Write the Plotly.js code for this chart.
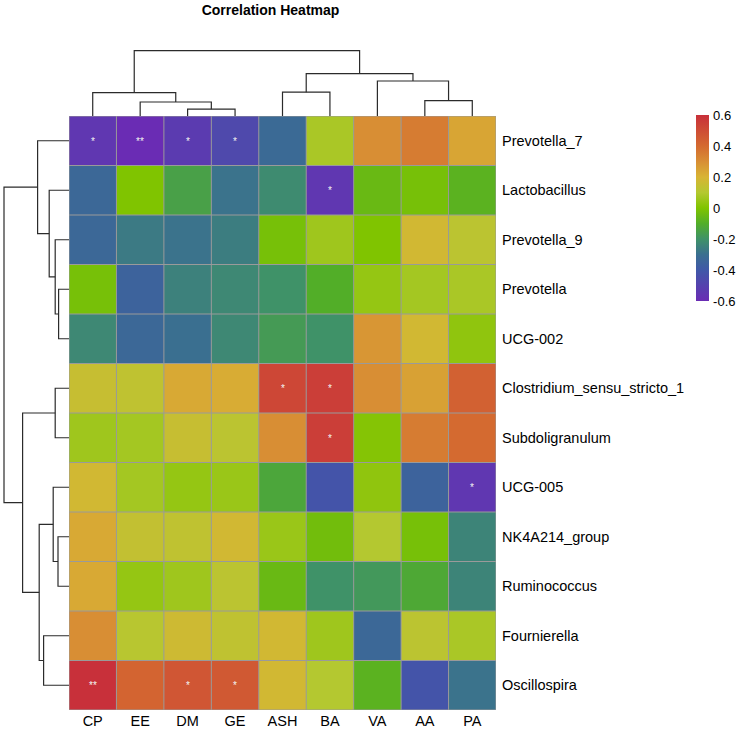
<!DOCTYPE html>
<html>
<head>
<meta charset="utf-8">
<script src="https://cdn.plot.ly/plotly-3.0.1.min.js"></script>
<style>
  html, body { margin: 0; padding: 0; background: #ffffff; }
  #chart { width: 738px; height: 729px; }
</style>
</head>
<body>
<div id="chart"></div>
<script>
// Environmental / nutrient variables (columns, in dendrogram order)
const variables = ['CP', 'EE', 'DM', 'GE', 'ASH', 'BA', 'VA', 'AA', 'PA'];

// Bacterial genera (rows, in dendrogram order)
const genera = ['Prevotella_7', 'Lactobacillus', 'Prevotella_9', 'Prevotella', 'UCG-002',
  'Clostridium_sensu_stricto_1', 'Subdoligranulum', 'UCG-005', 'NK4A214_group',
  'Ruminococcus', 'Fournierella', 'Oscillospira'];

// Correlation coefficients, one array per genus
const prevotella7   = [-0.55, -0.60, -0.53, -0.47, -0.32,  0.08,  0.30,  0.35,  0.24];
const lactobacillus = [-0.33,  0.00, -0.15, -0.29, -0.22, -0.55, -0.05, -0.02, -0.08];
const prevotella9   = [-0.33, -0.27, -0.29, -0.26, -0.02,  0.06,  0.00,  0.18,  0.12];
const prevotella    = [-0.02, -0.35, -0.25, -0.23, -0.20, -0.10,  0.04,  0.07,  0.08];
const ucg002        = [-0.23, -0.33, -0.30, -0.23, -0.17, -0.20,  0.28,  0.18,  0.03];
const clostridium   = [ 0.15,  0.13,  0.23,  0.22,  0.52,  0.55,  0.30,  0.25,  0.43];
const subdoli       = [ 0.06,  0.07,  0.15,  0.12,  0.30,  0.55,  0.01,  0.35,  0.40];
const ucg005        = [ 0.18,  0.07,  0.04,  0.05, -0.13, -0.42,  0.03, -0.35, -0.55];
const nk4a214       = [ 0.23,  0.14,  0.13,  0.18,  0.05, -0.03,  0.10, -0.02, -0.24];
const ruminococcus  = [ 0.23,  0.04,  0.06,  0.12, -0.05, -0.20, -0.18, -0.12, -0.24];
const fournierella  = [ 0.30,  0.11,  0.17,  0.13,  0.18,  0.06, -0.33,  0.12,  0.08];
const oscillospira  = [ 0.60,  0.42,  0.47,  0.46,  0.18,  0.10, -0.08, -0.42, -0.29];

const corr = [prevotella7, lactobacillus, prevotella9, prevotella, ucg002, clostridium,
  subdoli, ucg005, nk4a214, ruminococcus, fournierella, oscillospira];

// Significance marks (* p < 0.05, ** p < 0.01)
const sigMarks = [
  ['*', '**', '*', '*', '', '', '', '', ''],
  ['', '', '', '', '', '*', '', '', ''],
  ['', '', '', '', '', '', '', '', ''],
  ['', '', '', '', '', '', '', '', ''],
  ['', '', '', '', '', '', '', '', ''],
  ['', '', '', '', '*', '*', '', '', ''],
  ['', '', '', '', '', '*', '', '', ''],
  ['', '', '', '', '', '', '', '', '*'],
  ['', '', '', '', '', '', '', '', ''],
  ['', '', '', '', '', '', '', '', ''],
  ['', '', '', '', '', '', '', '', ''],
  ['**', '', '*', '*', '', '', '', '', '']
];

// Column clustering (hclust-style merge table: negative = leaf position + 1)
const colMerge   = [[-3, -4], [-2, 1], [-1, 2], [-8, -9], [-7, 4], [-5, -6], [6, 5], [3, 7]];
const colHeights = [0.34, 0.70, 1.17, 0.77, 1.75, 1.19, 2.12, 3.27];

// Row clustering
const rowMerge   = [[-4, -5], [-3, 1], [-2, 2], [-1, 3], [-6, -7], [-9, -10], [-8, 6],
  [-11, -12], [7, 8], [5, 9], [4, 10]];
const rowHeights = [0.52, 0.69, 0.99, 1.57, 0.69, 0.55, 0.79, 1.27, 1.49, 2.32, 3.25];

const colorTicks = [-0.6, -0.4, -0.2, 0, 0.2, 0.4, 0.6];

// Turn a merge table into dendrogram segments (position along leaves, height)
function dendroPaths(merge, heights) {
  const pos = [], hgt = [];
  const a = [], b = [];
  const ref = (k) => k < 0 ? [-k - 1, 0] : [pos[k - 1], hgt[k - 1]];
  merge.forEach((m, i) => {
    const [pl, hl] = ref(m[0]);
    const [pr, hr] = ref(m[1]);
    const h = heights[i];
    pos.push((pl + pr) / 2);
    hgt.push(h);
    a.push(pl, pl, pr, pr, null);
    b.push(hl, h, h, hr, null);
  });
  return { a, b };
}

const W = 738, H = 729;
const px = (v) => v / W;
const py = (v) => 1 - v / H;

const heatLeft = 69, heatRight = 496, heatTop = 116, heatBottom = 710;
const treeScale = 20; // pixels per distance unit

const colTree = dendroPaths(colMerge, colHeights);
const rowTree = dendroPaths(rowMerge, rowHeights);

const colorscale = [
  [0.0000, '#6a2cb4'],
  [0.1667, '#4058a8'],
  [0.2500, '#3a6f90'],
  [0.3333, '#3f9268'],
  [0.4167, '#52ae28'],
  [0.5000, '#80c400'],
  [0.5833, '#b4c830'],
  [0.6667, '#d8b434'],
  [0.7500, '#d88e34'],
  [0.8333, '#d46a30'],
  [1.0000, '#c8303a']
];

const font = 'Liberation Sans, Arial, Helvetica, sans-serif';

const heat = {
  type: 'heatmap',
  x: variables,
  y: genera,
  z: corr,
  text: sigMarks,
  texttemplate: '%{text}',
  textfont: { family: font, size: 10, color: '#f2f2f2' },
  zmin: -0.6, zmax: 0.6,
  colorscale: colorscale,
  xaxis: 'x', yaxis: 'y',
  hovertemplate: '%{y} / %{x}: %{z}<extra></extra>',
  colorbar: {
    x: px(696), xanchor: 'left', xpad: 0,
    y: py(208.3), yanchor: 'middle', ypad: 0,
    len: 186, lenmode: 'pixels',
    thickness: 13, thicknessmode: 'pixels',
    outlinewidth: 0,
    tickvals: colorTicks,
    ticktext: colorTicks.map(v => String(v)),
    ticks: 'outside', ticklen: 2, tickcolor: 'rgba(0,0,0,0)',
    tickfont: { family: font, size: 13, color: '#000' }
  }
};

const colDendro = {
  type: 'scatter', mode: 'lines',
  x: colTree.a, y: colTree.b,
  xaxis: 'x2', yaxis: 'y2',
  line: { color: '#2b2b2b', width: 1.2 },
  hoverinfo: 'skip', showlegend: false, connectgaps: false
};

const rowDendro = {
  type: 'scatter', mode: 'lines',
  x: rowTree.b, y: rowTree.a,
  xaxis: 'x3', yaxis: 'y3',
  line: { color: '#2b2b2b', width: 1.2 },
  hoverinfo: 'skip', showlegend: false, connectgaps: false
};

// Cell borders
const shapes = [];
for (let i = 0; i <= variables.length; i++) {
  shapes.push({ type: 'line', xref: 'x', yref: 'y', x0: i - 0.5, x1: i - 0.5,
    y0: -0.5, y1: genera.length - 0.5, line: { color: '#9a9a9a', width: 1 } });
}
for (let j = 0; j <= genera.length; j++) {
  shapes.push({ type: 'line', xref: 'x', yref: 'y', y0: j - 0.5, y1: j - 0.5,
    x0: -0.5, x1: variables.length - 0.5, line: { color: '#9a9a9a', width: 1 } });
}

const treeRange = 3.5;

const layout = {
  width: W, height: H,
  margin: { l: 0, r: 0, t: 0, b: 0 },
  paper_bgcolor: '#ffffff',
  plot_bgcolor: '#ffffff',
  showlegend: false,
  font: { family: font, color: '#000' },
  title: {
    text: '<b>Correlation Heatmap</b>',
    x: px(270.5), xanchor: 'center', xref: 'paper',
    y: py(10), yanchor: 'middle', yref: 'paper',
    font: { family: font, size: 14, color: '#000' }
  },
  xaxis: {
    domain: [px(heatLeft), px(heatRight)],
    anchor: 'y',
    type: 'category',
    range: [-0.5, variables.length - 0.5],
    showgrid: false, zeroline: false, showline: false, ticks: '',
    tickfont: { family: font, size: 14.5, color: '#000' },
    fixedrange: true
  },
  yaxis: {
    domain: [py(heatBottom), py(heatTop)],
    anchor: 'x',
    type: 'category',
    range: [genera.length - 0.5, -0.5],
    side: 'right',
    showgrid: false, zeroline: false, showline: false, ticks: '',
    ticklabelstandoff: 5,
    tickfont: { family: font, size: 14.5, color: '#000' },
    fixedrange: true
  },
  xaxis2: {
    domain: [px(heatLeft), px(heatRight)],
    anchor: 'y2',
    range: [-0.5, variables.length - 0.5],
    visible: false, fixedrange: true
  },
  yaxis2: {
    domain: [py(heatTop), py(heatTop - treeRange * treeScale)],
    anchor: 'x2',
    range: [0, treeRange],
    visible: false, fixedrange: true
  },
  xaxis3: {
    domain: [px(heatLeft - 3.4 * treeScale), px(heatLeft)],
    anchor: 'y3',
    range: [3.4, 0],
    visible: false, fixedrange: true
  },
  yaxis3: {
    domain: [py(heatBottom), py(heatTop)],
    anchor: 'x3',
    range: [genera.length - 0.5, -0.5],
    visible: false, fixedrange: true
  },
  shapes: shapes
};

Plotly.newPlot('chart', [heat, colDendro, rowDendro], layout, { displayModeBar: false, responsive: false });
</script>
</body>
</html>
